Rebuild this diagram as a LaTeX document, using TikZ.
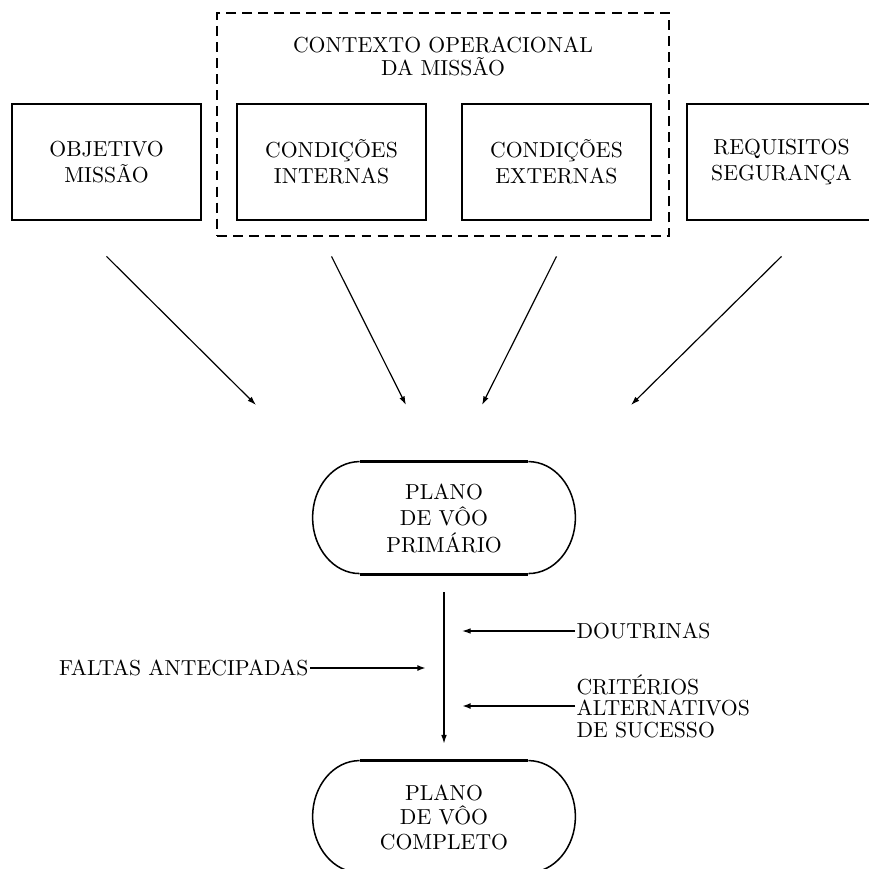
\documentclass[tikz,border=0pt]{standalone}
\usetikzlibrary{arrows.meta}

% one unit = one drawing pixel, y grows downwards
\tikzset{
  box/.style={draw, line width=1.3pt, minimum width=87.1pt, minimum height=53.5pt,
    align=center, inner sep=0pt, font=\fontsize{10}{12}\selectfont},
  ctxbox/.style={draw, dash pattern=on 4.6pt off 2.8pt, line width=1.3pt,
    minimum width=208.3pt, minimum height=102.8pt, inner sep=0pt},
  plan/.style={minimum width=120.7pt, minimum height=51.6pt, align=center, inner sep=0pt},
  lbl/.style={inner sep=0.5pt, font=\fontsize{10}{10}\selectfont},
  feed/.style={-{Latex[length=4pt,width=2.6pt]}, line width=0.55pt},
  feedthick/.style={-{Latex[length=4pt,width=2.8pt]}, line width=1.1pt},
}

% stadium outline: heavy straight edges, lighter elliptic ends
\newcommand\planoframe[1]{%
  \draw[line width=1.3pt] ([xshift=21.7pt]#1.north west) -- ([xshift=-21.7pt]#1.north east);
  \draw[line width=1.3pt] ([xshift=21.7pt]#1.south west) -- ([xshift=-21.7pt]#1.south east);
  \draw[line width=0.7pt] ([xshift=-21.7pt]#1.north east)
    arc[start angle=90, end angle=-90, x radius=21.7pt, y radius=25.8pt];
  \draw[line width=0.7pt] ([xshift=21.7pt]#1.north west)
    arc[start angle=90, end angle=270, x radius=21.7pt, y radius=25.8pt];
}

\begin{document}
\begin{tikzpicture}[x=0.4608pt, y=-0.4608pt]
\useasboundingbox (0,0) rectangle (869,869);
\clip (0,0) rectangle (869,869);

% mission context frame
\node[ctxbox] (ctx) at (443,124.5) {};
\node[align=center, inner sep=0pt, font=\fontsize{10}{10.6}\selectfont] (ctxt) at (443,56)
  {CONTEXTO OPERACIONAL\\DA MISSÃO};

% input boxes
\node[box] (obj) at (106.5,162) {OBJETIVO\\MISSÃO};
\node[box] (cint) at (331.5,162) {CONDIÇÕES\\INTERNAS};
\node[box] (cext) at (556.5,162) {CONDIÇÕES\\EXTERNAS};
\node[box] (req) at (781.5,162) {REQUISITOS\\SEGURANÇA};

% flight plans
\node[plan, font=\fontsize{10}{12.2}\selectfont] (prim) at (444,518) {PLANO\\DE VÔO\\PRIMÁRIO};
\planoframe{prim}
\node[plan, font=\fontsize{10}{11.3}\selectfont] (comp) at (444,817) {PLANO\\DE VÔO\\COMPLETO};
\planoframe{comp}

% arrow ends
\coordinate (e1) at (256,405);
\coordinate (e2) at (406,405);
\coordinate (e3) at (482,405);
\coordinate (e4) at (631,405);

\draw[feed] ([yshift=-16.1pt]obj.south) -- (e1);
\draw[feed] ([yshift=-16.1pt]cint.south) -- (e2);
\draw[feed] ([yshift=-16.1pt]cext.south) -- (e3);
\draw[feed] ([yshift=-16.1pt]req.south) -- (e4);

% refinement of the primary plan
\draw[feed] (prim.south) ++(0,18) -- ([yshift=7.8pt]comp.north);

\node[lbl, anchor=west] (dou) at (575,631) {DOUTRINAS};
\coordinate (d1) at (462,631);
\draw[feed] (dou.west) -- (d1);

\node[lbl, anchor=east] (falt) at (310,668) {FALTAS ANTECIPADAS};
\coordinate (f1) at (426,668);
\draw[feedthick] (falt.east) -- (f1);

\node[lbl, anchor=west, align=left, font=\fontsize{10}{9.9}\selectfont] (crit) at (575,706)
  {CRITÉRIOS\\ALTERNATIVOS\\DE SUCESSO};
\coordinate (c1) at (462,706);
\draw[feedthick] (crit.west |- c1) -- (c1);
\end{tikzpicture}
\end{document}
